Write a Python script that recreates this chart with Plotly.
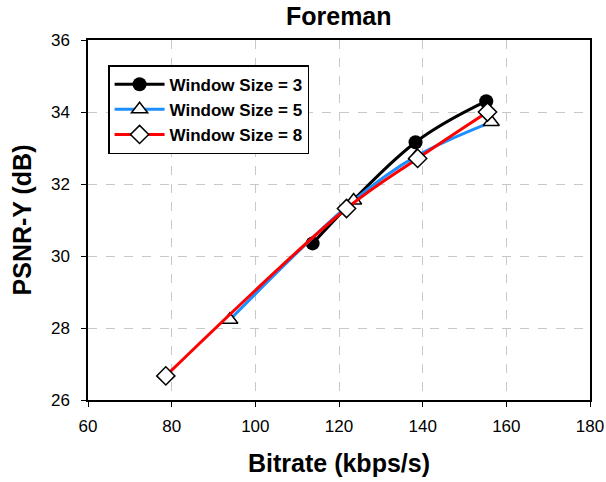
import plotly.graph_objects as go

w3_x = [113.7, 138.3, 155.2]
w3_y = [30.35, 33.16, 34.30]
w5_x = [93.9, 123.5, 138.6, 156.4]
w5_y = [28.23, 31.54, 32.78, 33.72]
w8_x = [78.6, 121.8, 138.8, 155.5]
w8_y = [26.67, 31.32, 32.71, 34.00]

x_ticks = [60, 80, 100, 120, 140, 160, 180]
y_ticks = [26, 28, 30, 32, 34, 36]

FONT = "Arial, Liberation Sans, sans-serif"

fig = go.Figure()
fig.add_trace(go.Scatter(x=w3_x, y=w3_y, name="<b>Window Size = 3</b>", mode="lines+markers",
                         line=dict(color="black", width=3, shape="spline"),
                         marker=dict(symbol="circle", size=14, color="black")))
fig.add_trace(go.Scatter(x=w5_x, y=w5_y, name="<b>Window Size = 5</b>", mode="lines+markers",
                         line=dict(color="#1E8FFF", width=3, shape="spline"),
                         marker=dict(symbol="triangle-up", size=14, color="white",
                                     line=dict(color="black", width=1.5))))
fig.add_trace(go.Scatter(x=w8_x, y=w8_y, name="<b>Window Size = 8</b>", mode="lines+markers",
                         line=dict(color="#FF0000", width=3, shape="spline"),
                         marker=dict(symbol="diamond", size=14, color="white",
                                     line=dict(color="black", width=1.5))))

axis_common = dict(showline=True, linecolor="black", linewidth=1.5, mirror=True,
                   ticks="outside", ticklen=5, tickcolor="black", tickwidth=1.2,
                   showgrid=True, gridcolor="#C8C8C8", griddash="dash", gridwidth=1.2,
                   zeroline=False, automargin=False,
                   tickfont=dict(family=FONT, size=17, color="black"))

fig.update_layout(
    width=606, height=482,
    margin=dict(l=88, r=16, t=40, b=82),
    paper_bgcolor="white", plot_bgcolor="white",
    title=dict(text="<b>Foreman</b>", x=0.559, xanchor="center", yref="container",
               y=0.966, yanchor="middle",
               font=dict(family=FONT, size=25, color="black")),
    xaxis=dict(range=[60, 180], tickvals=x_ticks, ticklabelstandoff=5,
               title=dict(text="<b>Bitrate (kbps/s)</b>", standoff=19,
                          font=dict(family=FONT, size=25, color="black")),
               **axis_common),
    yaxis=dict(range=[26, 36], tickvals=y_ticks, ticklabelstandoff=8,
               title=dict(text="<b>PSNR-Y (dB)</b>", standoff=12,
                          font=dict(family=FONT, size=25, color="black")),
               **axis_common),
    legend=dict(x=0.04, y=0.93, xanchor="left", yanchor="top",
                bgcolor="white", bordercolor="black", borderwidth=1.5,
                font=dict(family=FONT, size=17, color="black"),
                itemwidth=50, tracegroupgap=0),
    showlegend=True,
)

fig.write_html("out.html", config={"displayModeBar": False},
               post_script="document.body.style.margin='0';document.body.style.padding='0';")
